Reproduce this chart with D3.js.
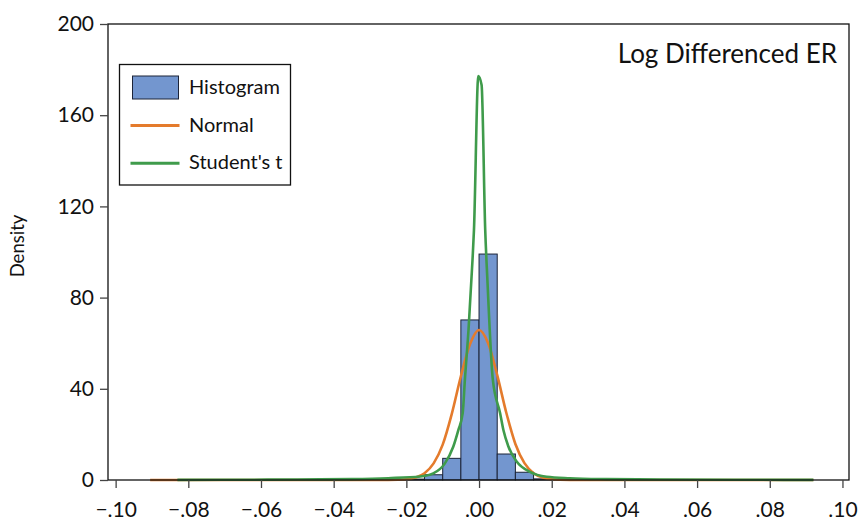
<!DOCTYPE html>
<html>
<head>
<meta charset="utf-8">
<script src="https://cdn.jsdelivr.net/npm/d3@7"></script>
<style>
  body { margin: 0; background: #fff; }
  text { font-family: Lato, "Noto Sans", sans-serif; fill: #111; }
</style>
</head>
<body>
<div id="chart"></div>
<script>
// histogram bins (left edge, right edge, density)
var binLo = [-0.025, -0.02, -0.015, -0.01, -0.005, 0.0, 0.005, 0.01, 0.015, 0.02];
var binHi = [-0.02, -0.015, -0.01, -0.005, 0.0, 0.005, 0.01, 0.015, 0.02, 0.025];
var binDensity = [0.1, 0.4, 2.3, 9.5, 70.2, 99.1, 11.4, 3.4, 0.5, 0.1];

// fitted normal density
var normalX = [-0.0905, -0.04, -0.03, -0.025, -0.02, -0.0175, -0.015, -0.0125, -0.01, -0.0075, -0.005, -0.0025,
  0.0, 0.0025, 0.005, 0.0075, 0.01, 0.0125, 0.015, 0.0175, 0.02, 0.025, 0.03, 0.04, 0.092];
var normalY = [0, 0, 0.01, 0.05, 0.35, 1.1, 3.0, 7.3, 15.5, 29, 45.5, 59.5,
  65.8, 60, 46, 29.5, 15.8, 7.4, 3.0, 1.1, 0.35, 0.05, 0.01, 0, 0];

// fitted student's t density
var studentX = [-0.083, -0.07, -0.05, -0.035, -0.025, -0.0162, -0.0126, -0.0094, -0.0071, -0.0057, -0.0045, -0.0039,
  -0.0029, -0.0018, -0.0014, -0.0002, 0.0007, 0.0017, 0.0023, 0.0038, 0.0058, 0.0067, 0.0081, 0.0104, 0.014,
  0.0186, 0.025, 0.035, 0.05, 0.07, 0.092];
var studentY = [0.05, 0.1, 0.2, 0.4, 0.8, 1.5, 2.9, 7.3, 14.6, 21.9, 29.3, 43.9,
  65.8, 96.5, 109.6, 177.2, 173.2, 109.6, 87.7, 43.9, 29.3, 21.9, 14.6, 8.0, 3.6,
  1.45, 0.8, 0.4, 0.2, 0.1, 0.05];

var xTicks = [-0.10, -0.08, -0.06, -0.04, -0.02, 0.00, 0.02, 0.04, 0.06, 0.08, 0.10];
var yTicks = [0, 40, 80, 120, 160, 200];
var legendLabels = ["Histogram", "Normal", "Student's t"];

var WIDTH = 859, HEIGHT = 526;
var MARGIN = { LEFT: 108, RIGHT: 10, TOP: 24, BOTTOM: 46 };
var BAR_FILL = "#7396cf", BAR_STROKE = "#1c2438";
var NORMAL_COLOR = "#e47b2c", STUDENT_COLOR = "#3f9b4b";

var xScale = d3.scaleLinear().domain([-0.1021, 0.1018]).range([MARGIN.LEFT, WIDTH - MARGIN.RIGHT]);
var yScale = d3.scaleLinear().domain([0, 200]).range([HEIGHT - MARGIN.BOTTOM, MARGIN.TOP]);

var svg = d3.select("#chart").append("svg")
  .attr("width", WIDTH)
  .attr("height", HEIGHT);

// bars
svg.append("g")
  .selectAll("rect")
  .data(binDensity)
  .enter().append("rect")
  .attr("x", (d, i) => xScale(binLo[i]))
  .attr("y", d => yScale(d))
  .attr("width", (d, i) => xScale(binHi[i]) - xScale(binLo[i]))
  .attr("height", d => yScale(0) - yScale(d))
  .attr("fill", BAR_FILL)
  .attr("stroke", BAR_STROKE)
  .attr("stroke-width", 1);

var line = d3.line()
  .x(d => xScale(d[0]))
  .y(d => yScale(d[1]))
  .curve(d3.curveMonotoneX);

svg.append("path")
  .datum(normalX.map((x, i) => [x, normalY[i]]))
  .attr("fill", "none")
  .attr("stroke", NORMAL_COLOR)
  .attr("stroke-width", 2.6)
  .attr("stroke-linejoin", "round")
  .attr("d", line);

svg.append("path")
  .datum(studentX.map((x, i) => [x, studentY[i]]))
  .attr("fill", "none")
  .attr("stroke", STUDENT_COLOR)
  .attr("stroke-width", 2.6)
  .attr("stroke-linejoin", "round")
  .attr("d", line);

// frame
svg.append("rect")
  .attr("x", xScale.range()[0])
  .attr("y", yScale.range()[1])
  .attr("width", xScale.range()[1] - xScale.range()[0])
  .attr("height", yScale.range()[0] - yScale.range()[1])
  .attr("fill", "none")
  .attr("stroke", "#111")
  .attr("stroke-width", 1.3);

var fmt = d => d3.format(".2f")(d).replace("0.", ".");

svg.append("g")
  .attr("class", "x axis")
  .attr("transform", "translate(0," + yScale(0) + ")")
  .call(d3.axisBottom(xScale).tickValues(xTicks).tickFormat(fmt).tickSize(8).tickPadding(14))
  .call(g => g.select(".domain").remove())
  .call(g => g.selectAll(".tick line").attr("stroke", "#444").attr("stroke-width", 1.3))
  .call(g => g.selectAll(".tick text").attr("font-size", 21).attr("font-family", "Lato").attr("fill", "#111"));

svg.append("g")
  .attr("class", "y axis")
  .attr("transform", "translate(" + xScale.range()[0] + ",0)")
  .call(d3.axisLeft(yScale).tickValues(yTicks).tickSize(8).tickPadding(6))
  .call(g => g.select(".domain").remove())
  .call(g => g.selectAll(".tick line").attr("stroke", "#444").attr("stroke-width", 1.3))
  .call(g => g.selectAll(".tick text").attr("font-size", 21).attr("font-family", "Lato").attr("fill", "#111"));

svg.append("text")
  .attr("transform", "translate(24,246) rotate(-90)")
  .attr("text-anchor", "middle")
  .attr("font-size", 18.5)
  .text("Density");

svg.append("text")
  .attr("x", 837)
  .attr("y", 63)
  .attr("text-anchor", "end")
  .attr("font-size", 26)
  .text("Log Differenced ER");

// legend
var legend = svg.append("g").attr("transform", "translate(119.5,64.5)");
legend.append("rect")
  .attr("width", 171)
  .attr("height", 120.5)
  .attr("fill", "#fff")
  .attr("stroke", "#111")
  .attr("stroke-width", 1.3);
legend.append("rect")
  .attr("x", 13).attr("y", 11.5)
  .attr("width", 46).attr("height", 23)
  .attr("fill", BAR_FILL)
  .attr("stroke", BAR_STROKE);
[NORMAL_COLOR, STUDENT_COLOR].forEach((c, i) => {
  legend.append("line")
    .attr("x1", 11).attr("x2", 60)
    .attr("y1", 61 + i * 37.7).attr("y2", 61 + i * 37.7)
    .attr("stroke", c)
    .attr("stroke-width", 3);
});
legend.selectAll("text.lab")
  .data(legendLabels)
  .enter().append("text")
  .attr("class", "lab")
  .attr("x", 69.5)
  .attr("y", (d, i) => 29.5 + i * 37.7)
  .attr("font-size", 20)
  .text(d => d);
</script>
</body>
</html>
